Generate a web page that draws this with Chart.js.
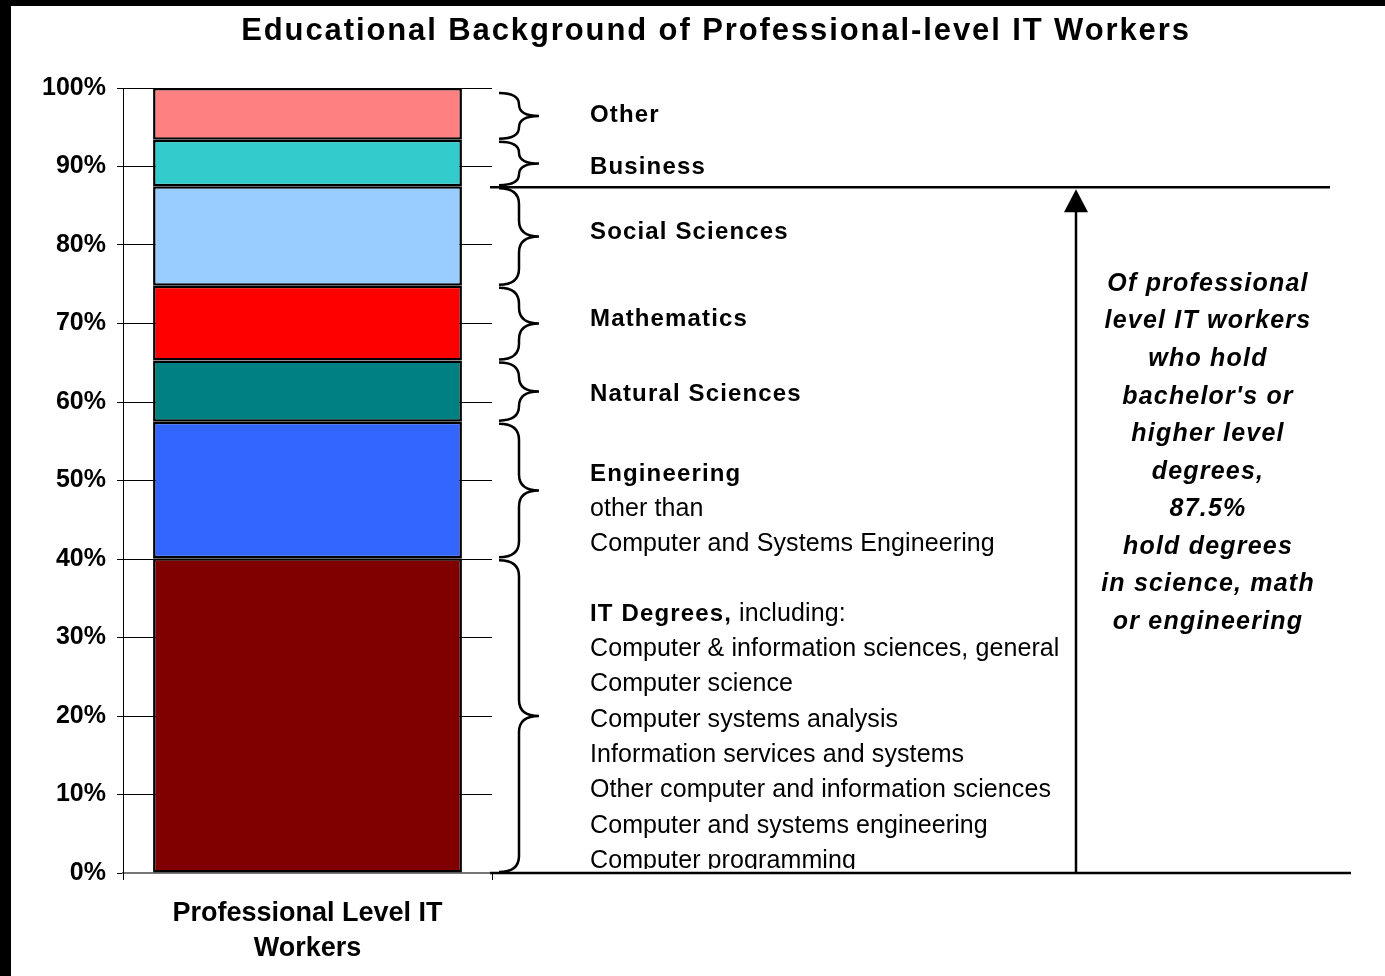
<!DOCTYPE html>
<html><head><meta charset="utf-8">
<script src="https://cdn.jsdelivr.net/npm/chart.js@4/dist/chart.umd.min.js"></script>
<style>html,body{margin:0;padding:0;background:#fff;overflow:hidden}canvas{display:block}</style>
</head><body>
<canvas id="c" width="1385" height="976"></canvas>
<script>
// ---- data ----
const categories = [['Professional Level IT', 'Workers']];
const seriesNames = ['IT Degrees', 'Engineering', 'Natural Sciences', 'Mathematics', 'Social Sciences', 'Business', 'Other'];
const seriesValues = [40.1, 17.4, 7.8, 9.5, 12.7, 5.9, 6.6];
const seriesColors = ['#800000', '#3366FF', '#008080', '#FF0000', '#99CCFF', '#33CCCC', '#FF8080'];
const yTickStep = 10;
const titleText = 'Educational Background of Professional-level IT Workers';
const sideLabels = [
  [[{t:'IT Degrees,', b:true}, {t:' including:', b:false}],
   [{t:'Computer & information sciences, general'}], [{t:'Computer science'}], [{t:'Computer systems analysis'}],
   [{t:'Information services and systems'}], [{t:'Other computer and information sciences'}],
   [{t:'Computer and systems engineering'}], [{t:'Computer programming'}]],
  [[{t:'Engineering', b:true}], [{t:'other than'}], [{t:'Computer and Systems Engineering'}]],
  [[{t:'Natural Sciences', b:true}]],
  [[{t:'Mathematics', b:true}]],
  [[{t:'Social Sciences', b:true}]],
  [[{t:'Business', b:true}]],
  [[{t:'Other', b:true}]]
];
const scienceCount = 5; // first five series: science, math, engineering
const scienceShare = seriesValues.slice(0, scienceCount).reduce((a, b) => a + b, 0);
const noteLines = ['Of professional', 'level IT workers', 'who hold', "bachelor's or", 'higher level', 'degrees,',
  scienceShare.toFixed(1) + '%', 'hold degrees', 'in science, math', 'or engineering'];

const FF = '"Liberation Sans", Arial, Helvetica, sans-serif';

const datasets = seriesNames.map((n, i) => ({
  label: n, data: [seriesValues[i]], backgroundColor: seriesColors[i],
  borderColor: '#000', borderWidth: 2.5, borderSkipped: false,
  categoryPercentage: 1, barPercentage: 0.837
}));

function brace(ctx, x0, xs, xt, yTop, yBot) {
  const ym = (yTop + yBot) / 2;
  const r = Math.min(16, (yBot - yTop) / 4);
  ctx.beginPath();
  ctx.moveTo(x0, yTop);
  ctx.quadraticCurveTo(xs, yTop, xs, yTop + r);
  ctx.lineTo(xs, ym - r);
  ctx.quadraticCurveTo(xs, ym, xt, ym);
  ctx.quadraticCurveTo(xs, ym, xs, ym + r);
  ctx.lineTo(xs, yBot - r);
  ctx.quadraticCurveTo(xs, yBot, x0, yBot);
  ctx.stroke();
}

const decor = {
  id: 'decor',
  afterDraw(chart) {
    const ctx = chart.ctx, ys = chart.scales.y;
    ctx.save();
    // frame strips
    ctx.fillStyle = '#000';
    ctx.fillRect(0, 0, 11, 976);
    ctx.fillRect(0, 0, 1385, 6);
    // title
    ctx.font = 'bold 31px ' + FF;
    ctx.letterSpacing = '1.9px';
    ctx.textAlign = 'center';
    ctx.textBaseline = 'middle';
    ctx.fillText(titleText, 716, 31);

    // braces
    ctx.strokeStyle = '#000';
    ctx.lineWidth = 2.5;
    let cum = 0;
    seriesValues.forEach((v, i) => {
      const yb = ys.getPixelForValue(cum), yt = ys.getPixelForValue(cum + v);
      cum += v;
      brace(ctx, 499, 519, 539, yt + (i === seriesValues.length - 1 ? 5 : 2), yb - 1);
    });

    // side labels
    const textY = [614, 474, 394, 319, 232, 167, 115];
    const lh = 35.3;
    ctx.textAlign = 'left';
    ctx.save();
    ctx.beginPath();
    ctx.rect(560, 0, 560, 869);
    ctx.clip();
    sideLabels.forEach((lines, i) => {
      lines.forEach((parts, j) => {
        let x = 590;
        const y = textY[i] + j * lh;
        parts.forEach(p => {
          if (p.b) { ctx.font = 'bold 24px ' + FF; ctx.letterSpacing = '1.15px'; }
          else { ctx.font = '25px ' + FF; ctx.letterSpacing = '0.1px'; }
          ctx.fillText(p.t, x, y);
          x += ctx.measureText(p.t).width;
        });
      });
    });
    ctx.restore();

    // lines & arrow
    const yS = ys.getPixelForValue(scienceShare);
    const y0 = ys.getPixelForValue(0);
    ctx.lineWidth = 2.5;
    ctx.beginPath();
    ctx.moveTo(490, yS + 1); ctx.lineTo(1330, yS + 1);
    ctx.moveTo(490, y0); ctx.lineTo(1351, y0);
    ctx.moveTo(1076, y0); ctx.lineTo(1076, yS + 24);
    ctx.stroke();
    ctx.beginPath();
    ctx.moveTo(1076, yS + 3);
    ctx.lineTo(1088, yS + 26);
    ctx.lineTo(1064, yS + 26);
    ctx.closePath();
    ctx.fill();

    // note
    ctx.font = 'italic bold 25px ' + FF;
    ctx.letterSpacing = '1.2px';
    ctx.textAlign = 'center';
    noteLines.forEach((l, i) => ctx.fillText(l, 1208, 284 + i * 37.55));
    ctx.restore();
  }
};

new Chart(document.getElementById('c'), {
  type: 'bar',
  data: { labels: categories, datasets },
  options: {
    responsive: false, animation: false, devicePixelRatio: 1,
    layout: { padding: { left: 0, right: 893, top: 88, bottom: 0 } },
    plugins: { legend: { display: false }, title: { display: false }, tooltip: { enabled: false } },
    scales: {
      x: {
        stacked: true, offset: true,
        grid: { drawOnChartArea: false, tickLength: 7, color: '#000', offset: true },
        border: { color: '#777', width: 2 },
        ticks: { color: '#000', font: { family: FF, size: 27, weight: 'bold', lineHeight: 1.3 }, padding: 16 },
        afterFit: s => { s.height = 103; }
      },
      y: {
        stacked: true, min: 0, max: 100,
        grid: { color: '#000', lineWidth: 1, tickLength: 6 },
        border: { color: '#000', width: 1 },
        ticks: { stepSize: yTickStep, color: '#000', padding: 11,
          font: { family: FF, size: 25, weight: 'bold' }, callback: v => v + '%' },
        afterFit: s => { s.width = 123; }
      }
    }
  },
  plugins: [decor]
});
</script>
</body></html>
